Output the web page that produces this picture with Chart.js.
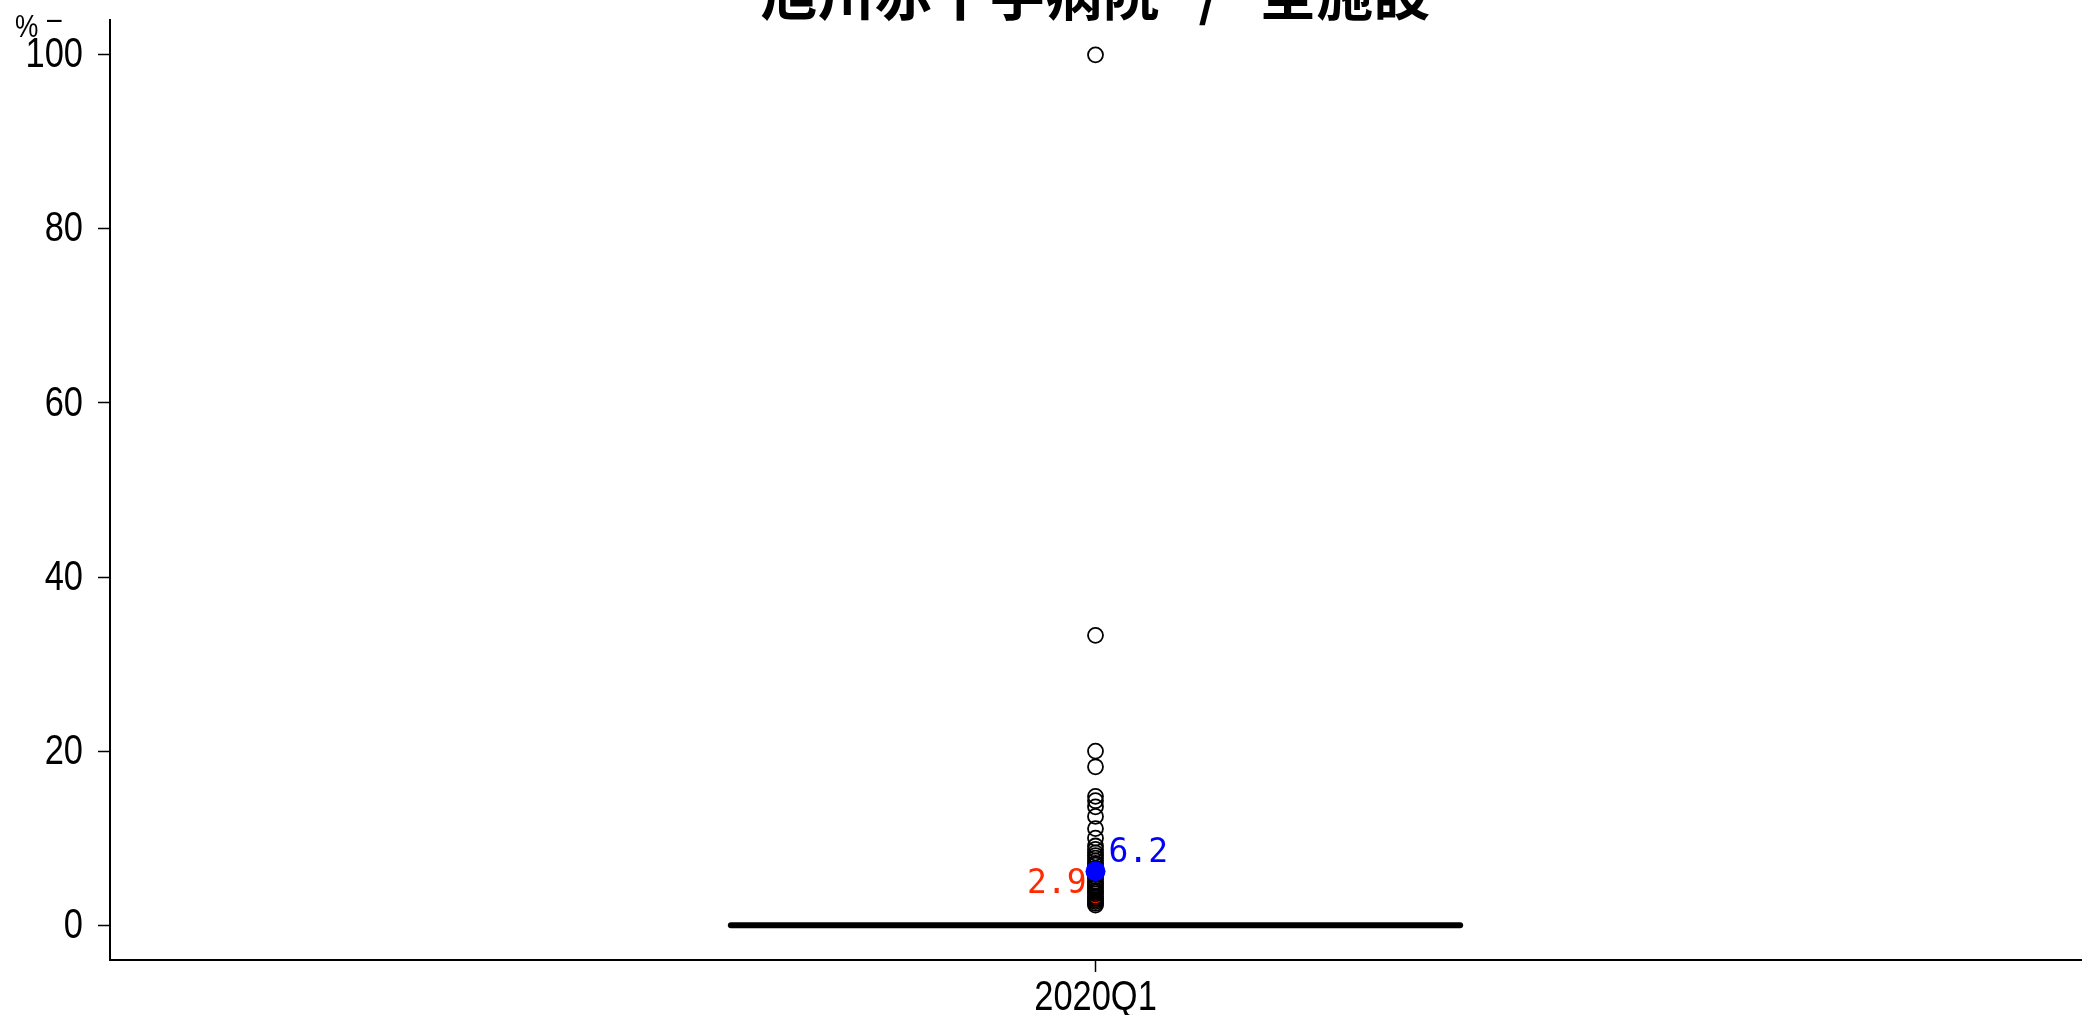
<!DOCTYPE html>
<html>
<head>
<meta charset="utf-8">
<script src="https://cdn.jsdelivr.net/npm/chart.js@4.4.1/dist/chart.umd.min.js"></script>
<style>
  html, body { margin: 0; padding: 0; background: #fff; }
  #wrap { width: 2096px; height: 1015px; }
</style>
</head>
<body>
<div id="wrap"><canvas id="grafico"></canvas></div>
<script>
// data
const categories = ['2020Q1'];
const medianValue = [0];
const outlierValues = [100, 33.3, 20.0, 18.2, 14.8, 14.3, 13.6, 12.5, 11.1, 10.0, 9.1, 8.7, 8.3, 8.0,
  7.7, 7.4, 7.1, 6.9, 6.5, 5.9, 5.6, 5.3, 5.0, 4.8, 4.5, 4.3, 4.0, 3.8, 3.6, 3.3, 3.1, 2.9, 2.7, 2.5, 2.3];
const allFacilityValue = [6.2];   // blue
const hospitalValue = [2.9];      // red
const yTickValues = [0, 20, 40, 60, 80, 100];
const titleText = '旭川赤十字病院   /   全施設';
const unitText = '%';

const sansFont = "'Liberation Sans', Arial, sans-serif";
const squeeze = 0.82; // reference uses a narrow face
const boxHalf = 0.185;

// narrow text helper
function narrowText(ctx, text, x, y, align) {
  ctx.save();
  ctx.translate(x, y);
  ctx.scale(squeeze, 1);
  ctx.textAlign = align;
  ctx.fillText(text, 0, 0);
  ctx.restore();
}

// title, unit, tick labels and point labels
const annotations = {
  id: 'annotations',
  afterDatasetsDraw(chart) {
    const ctx = chart.ctx;
    const xs = chart.scales.x, ys = chart.scales.y;
    const area = chart.chartArea;
    ctx.save();
    ctx.fillStyle = '#000';
    ctx.font = "bold 57px 'Noto Sans CJK JP', sans-serif";
    ctx.textAlign = 'center';
    ctx.textBaseline = 'alphabetic';
    ctx.fillText(titleText, (area.left + area.right) / 2, 15);

    ctx.font = '32px ' + sansFont;
    narrowText(ctx, unitText, 15, 37, 'left');
    narrowText(ctx, '–', 47, 29, 'left');

    // tick labels
    ctx.font = '42px ' + sansFont;
    ctx.textBaseline = 'middle';
    yTickValues.forEach(v => {
      narrowText(ctx, String(v), area.left - 27, ys.getPixelForValue(v) + 1, 'right');
    });
    ctx.textBaseline = 'top';
    categories.forEach((c, i) => {
      narrowText(ctx, c, xs.getPixelForValue(i + 1), area.bottom + 17, 'center');
    });

    const x0 = xs.getPixelForValue(1);
    ctx.font = "33px 'DejaVu Sans Mono', monospace";
    ctx.textBaseline = 'middle';
    ctx.fillStyle = '#0000ff';
    ctx.textAlign = 'left';
    ctx.fillText(allFacilityValue[0].toFixed(1), x0 + 13, ys.getPixelForValue(allFacilityValue[0]) - 18);
    ctx.fillStyle = '#ff2a00';
    ctx.textAlign = 'right';
    ctx.fillText(hospitalValue[0].toFixed(1), x0 - 9, ys.getPixelForValue(hospitalValue[0]) - 16);
    ctx.restore();
  }
};

const config = {
  type: 'scatter',
  data: {
    datasets: [
      {
        type: 'line',
        order: 4,
        data: [{ x: 1 - boxHalf, y: medianValue[0] }, { x: 1 + boxHalf, y: medianValue[0] }],
        borderColor: '#000',
        borderWidth: 6,
        borderCapStyle: 'round',
        pointRadius: 0
      },
      {
        order: 2,
        data: outlierValues.map(v => ({ x: 1, y: v })),
        pointRadius: 7.5,
        pointBorderWidth: 1.8,
        borderColor: '#000',
        backgroundColor: 'rgba(0,0,0,0)'
      },
      {
        order: 3,
        data: hospitalValue.map(v => ({ x: 1, y: v })),
        pointRadius: 7,
        pointBorderWidth: 0,
        backgroundColor: '#ff2a00'
      },
      {
        order: 1,
        data: allFacilityValue.map(v => ({ x: 1, y: v })),
        pointRadius: 10,
        pointBorderWidth: 0,
        backgroundColor: '#0000ff'
      }
    ]
  },
  options: {
    responsive: true,
    maintainAspectRatio: false,
    animation: false,
    layout: { padding: { top: 20, right: 15, left: 0, bottom: 0 } },
    plugins: { legend: { display: false }, tooltip: { enabled: false }, title: { display: false } },
    scales: {
      x: {
        type: 'linear',
        min: 0.5,
        max: 1.5,
        afterBuildTicks: s => { s.ticks = categories.map((c, i) => ({ value: i + 1 })); },
        afterFit: s => { s.height = 55; },
        ticks: { display: false },
        grid: { drawOnChartArea: false, tickLength: 12, tickWidth: 1.5, tickColor: '#000' },
        border: { color: '#000', width: 2 }
      },
      y: {
        min: -4,
        max: 104,
        afterBuildTicks: s => { s.ticks = yTickValues.map(v => ({ value: v })); },
        afterFit: s => { s.width = 110; },
        ticks: { display: false },
        grid: { drawOnChartArea: false, tickLength: 12, tickWidth: 1.5, tickColor: '#000' },
        border: { color: '#000', width: 2 }
      }
    }
  },
  plugins: [annotations]
};

new Chart(document.getElementById('grafico'), config);
</script>
</body>
</html>
